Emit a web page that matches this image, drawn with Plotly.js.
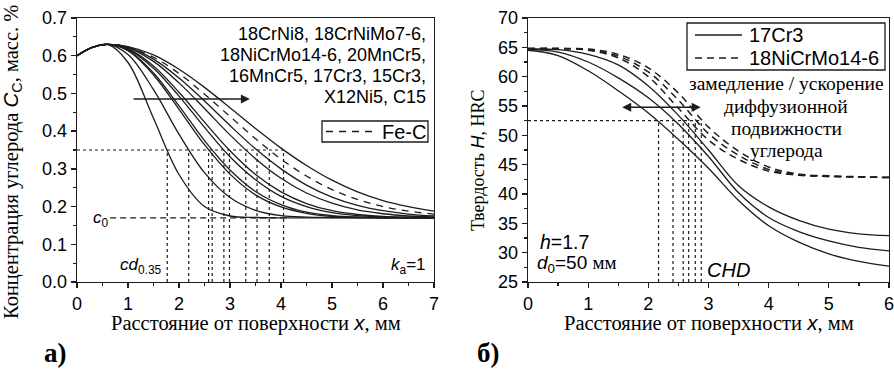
<!DOCTYPE html>
<html><head><meta charset="utf-8">
<script src="https://cdn.plot.ly/plotly-3.0.1.min.js"></script>
<style>html,body{margin:0;padding:0;background:#fff}#chart{width:894px;height:374px}</style>
</head><body><div id="chart"></div>
<script>
// ---------- panel a) carbon concentration profiles ----------
const xA = [0,0.3,0.6,1.0,1.5,2.0,2.5,3.0,3.5,4.0,4.5,5.0,5.5,6.0,6.5,7.0];
const steelA1 = [0.600,0.622,0.630,0.582,0.434,0.285,0.200,0.175,0.171,0.170,0.170,0.170,0.170,0.170,0.170,0.170];
const steelA2 = [0.600,0.622,0.630,0.603,0.510,0.392,0.290,0.224,0.190,0.176,0.172,0.171,0.170,0.170,0.170,0.170];
const steelA3 = [0.600,0.622,0.630,0.613,0.549,0.458,0.364,0.286,0.231,0.199,0.182,0.174,0.172,0.170,0.170,0.170];
const steelA4 = [0.600,0.622,0.630,0.614,0.554,0.467,0.375,0.297,0.240,0.205,0.185,0.176,0.172,0.171,0.170,0.170];
const steelA5 = [0.600,0.622,0.630,0.617,0.567,0.493,0.410,0.332,0.271,0.227,0.200,0.184,0.176,0.172,0.171,0.170];
const steelA6 = [0.600,0.622,0.630,0.618,0.573,0.503,0.424,0.348,0.285,0.239,0.208,0.189,0.179,0.174,0.172,0.171];
const steelA7 = [0.600,0.622,0.630,0.621,0.585,0.528,0.460,0.390,0.327,0.275,0.236,0.209,0.191,0.181,0.175,0.172];
const steelA8 = [0.600,0.622,0.630,0.622,0.591,0.541,0.480,0.415,0.353,0.300,0.257,0.225,0.203,0.189,0.180,0.175];
const steelA9 = [0.600,0.622,0.630,0.624,0.602,0.564,0.516,0.462,0.407,0.355,0.309,0.270,0.239,0.216,0.200,0.188];
const feC     = [0.600,0.622,0.630,0.623,0.596,0.553,0.498,0.439,0.380,0.326,0.281,0.245,0.219,0.200,0.188,0.180];
const cdA = [1.77,2.19,2.58,2.65,2.88,2.99,3.31,3.53,3.77,4.05];
const cdLevel = 0.35;
const c0Level = 0.17;
const steelNames = ['18CrNi8, 18CrNiMo7-6,', '18NiCrMo14-6, 20MnCr5,', '16MnCr5, 17Cr3, 15Cr3,', 'X12Ni5, C15'];

// ---------- panel б) hardness profiles ----------
const xB = [0,0.5,1,1.5,2,2.5,3,3.5,4,4.5,5,5.5,6];
const cr3_1 = [64.5,63.6,61.0,57.6,53.8,49.3,44.4,38.9,34.6,31.8,29.8,28.5,27.7];
const cr3_2 = [64.6,64.2,62.5,59.8,56.4,51.9,46.4,40.2,36.0,33.6,32.0,30.9,30.3];
const cr3_3 = [64.7,64.6,63.8,62.0,58.4,53.4,47.5,41.4,37.8,35.5,34.0,33.2,32.9];
const ni_1  = [64.8,64.8,64.5,63.2,60.0,54.6,49.2,45.9,43.9,43.2,43.0,42.9,42.8];
const ni_2  = [64.8,64.8,64.6,63.5,60.8,56.0,50.3,46.6,44.2,43.3,43.0,42.9,42.8];
const ni_3  = [64.8,64.8,64.7,63.8,61.5,57.2,51.4,47.3,44.6,43.4,43.1,42.95,42.85];
const chdB = [2.17,2.41,2.58,2.67,2.78,2.88];
const chdLevel = 52.5;
const noteLines = ['замедление / ускорение', 'диффузионной', 'подвижности', 'углерода'];

const INK = '#1c1c1c';
const SANS = 'Liberation Sans, Arial, sans-serif';
const SERIF = 'Liberation Serif, Times New Roman, serif';
const FE_DASH = '7px,6px';
const NI_DASH = '7px,5px';

const traces = [];
[steelA1,steelA2,steelA3,steelA4,steelA5,steelA6,steelA7,steelA8,steelA9].forEach((ys,i) => {
  traces.push({x:xA, y:ys, xaxis:'x', yaxis:'y', mode:'lines', name:'steel '+(i+1), showlegend:false,
    line:{color:INK, width:1.3, shape:'spline', smoothing:1}});
});
traces.push({x:xA, y:feC, xaxis:'x', yaxis:'y', mode:'lines', name:'Fe-C', showlegend:false,
  line:{color:INK, width:1.3, dash:FE_DASH, shape:'spline', smoothing:1}});
[cr3_1,cr3_2,cr3_3].forEach(ys => {
  traces.push({x:xB, y:ys, xaxis:'x2', yaxis:'y2', mode:'lines', name:'17Cr3', showlegend:false,
    line:{color:INK, width:1.3, shape:'spline', smoothing:1}});
});
[ni_1,ni_2,ni_3].forEach(ys => {
  traces.push({x:xB, y:ys, xaxis:'x2', yaxis:'y2', mode:'lines', name:'18NiCrMo14-6', showlegend:false,
    line:{color:INK, width:1.5, dash:NI_DASH, shape:'spline', smoothing:1}});
});

const px = v => v/894, py = v => 1 - v/374;
const shapes = [];
const dotLine = {color:INK, width:1.2, dash:'dot'};
cdA.forEach(v => shapes.push({type:'line', xref:'x', yref:'y', x0:v, x1:v, y0:0, y1:cdLevel, line:dotLine}));
shapes.push({type:'line', xref:'x', yref:'y', x0:0, x1:Math.max(...cdA), y0:cdLevel, y1:cdLevel, line:dotLine});
shapes.push({type:'line', xref:'x', yref:'y', x0:0.65, x1:Math.max(...cdA)+0.05, y0:c0Level, y1:c0Level,
  line:{color:INK, width:1.2, dash:'6px,4px'}});
chdB.forEach(v => shapes.push({type:'line', xref:'x2', yref:'y2', x0:v, x1:v, y0:25, y1:chdLevel, line:dotLine}));
shapes.push({type:'line', xref:'x2', yref:'y2', x0:0, x1:Math.max(...chdB), y0:chdLevel, y1:chdLevel, line:dotLine});
// legend boxes and their line samples
shapes.push({type:'rect', xref:'paper', yref:'paper', x0:px(322), x1:px(428), y0:py(142), y1:py(121),
  fillcolor:'#fff', line:{color:INK, width:1.3}});
shapes.push({type:'line', xref:'paper', yref:'paper', x0:px(326), x1:px(375), y0:py(131.5), y1:py(131.5),
  line:{color:INK, width:1.3, dash:FE_DASH}});
shapes.push({type:'rect', xref:'paper', yref:'paper', x0:px(687), x1:px(885), y0:py(70), y1:py(23),
  fillcolor:'#fff', line:{color:INK, width:1.3}});
shapes.push({type:'line', xref:'paper', yref:'paper', x0:px(695), x1:px(742), y0:py(35), y1:py(35),
  line:{color:INK, width:1.3}});
shapes.push({type:'line', xref:'paper', yref:'paper', x0:px(695), x1:px(742), y0:py(58), y1:py(58),
  line:{color:INK, width:1.3, dash:NI_DASH}});

const axBase = {showline:true, linecolor:INK, linewidth:1.3, mirror:true, showgrid:false, zeroline:false,
  ticks:'outside', ticklen:5, tickwidth:1.3, tickcolor:INK, ticklabeloverflow:'allow',
  tickfont:{family:SANS, size:18, color:'#000'}};
const yDom = [1-282/374, 1-18/374];
const A = (o) => Object.assign({showarrow:false, xanchor:'center', yanchor:'middle'}, o);
const xTitle = 'Расстояние от поверхности <span style="font-family:Liberation Sans"><i>x</i></span>, мм';

const annotations = [
  A({xref:'x', yref:'paper', x:3.5, y:py(323), text:xTitle, font:{family:SERIF, size:20.5}}),
  A({xref:'x2', yref:'paper', x:3.0, y:py(323), text:xTitle, font:{family:SERIF, size:20.5}}),
  A({xref:'paper', yref:'paper', x:px(12), y:py(162), textangle:-90,
     text:'Концентрация углерода <span style="font-family:Liberation Sans"><i>C</i><sub>C</sub></span>, масс. %',
     font:{family:SERIF, size:20.5}}),
  A({xref:'paper', yref:'paper', x:px(478), y:py(161), textangle:-90,
     text:'Твердость <span style="font-family:Liberation Sans"><i>H</i></span>, HRC', font:{family:SERIF, size:18}}),
  A({xref:'paper', yref:'paper', x:px(55), y:py(353), text:'<b>а)</b>', font:{family:SERIF, size:27}}),
  A({xref:'paper', yref:'paper', x:px(488), y:py(353), text:'<b>б)</b>', font:{family:SERIF, size:27}}),
  // legend texts
  A({xref:'paper', yref:'paper', x:px(380), y:py(131.5), xanchor:'left', text:'Fe-C', font:{family:SANS, size:20}}),
  A({xref:'paper', yref:'paper', x:px(747), y:py(35), xanchor:'left', text:'17Cr3', font:{family:SANS, size:20}}),
  A({xref:'paper', yref:'paper', x:px(747), y:py(58), xanchor:'left', text:'18NiCrMo14-6', font:{family:SANS, size:20}}),
  // panel a texts
  A({xref:'x', yref:'y', x:0.48, y:0.167, text:'<i>c</i><sub>0</sub>', font:{family:SANS, size:17}}),
  A({xref:'x', yref:'y', x:1.25, y:0.042, text:'<i>cd</i><sub>0.35</sub>', font:{family:SANS, size:17}}),
  A({xref:'x', yref:'y', x:6.5, y:0.042, text:'<i>k</i><sub>a</sub>=1', font:{family:SANS, size:17}}),
  {xref:'x', yref:'y', axref:'x', ayref:'y', x:3.39, y:0.485, ax:1.08, ay:0.485, text:'', showarrow:true,
   arrowhead:2, arrowsize:1.2, arrowwidth:1.5, arrowcolor:INK},
  // panel b texts
  A({xref:'x2', yref:'y2', x:0.16, y:31.9, xanchor:'left', text:'<i>h</i>=1.7', font:{family:SANS, size:19.5}}),
  A({xref:'x2', yref:'y2', x:0.11, y:28.0, xanchor:'left',
     text:'<i>d</i><sub>0</sub>=50 <span style="font-family:Liberation Serif">мм</span>', font:{family:SANS, size:19}}),
  A({xref:'x2', yref:'y2', x:3.33, y:27.1, text:'<i>CHD</i>', font:{family:SANS, size:20}}),
  {xref:'x2', yref:'y2', axref:'x2', ayref:'y2', x:2.87, y:54.8, ax:1.54, ay:54.8, text:'', showarrow:true,
   arrowhead:2, startarrowhead:2, arrowside:'end+start', arrowsize:1.2, startarrowsize:1.2, arrowwidth:1.5, arrowcolor:INK}
];
const steelRows = [34, 55, 76, 97];
steelNames.forEach((t,i) => annotations.push(A({xref:'paper', yref:'paper', x:px(428), y:py(steelRows[i]),
  xanchor:'right', text:t, font:{family:SANS, size:18}})));
const noteRows = [83, 106, 128, 150];
noteLines.forEach((t,i) => annotations.push(A({xref:'paper', yref:'paper', x:px(786), y:py(noteRows[i]),
  text:t, font:{family:SERIF, size:19.5}})));

const layout = {
  width:894, height:374, margin:{l:0, r:0, t:0, b:0},
  paper_bgcolor:'#fff', plot_bgcolor:'#fff', showlegend:false,
  font:{family:SANS, size:17, color:'#000'},
  xaxis: Object.assign({}, axBase, {domain:[77/894, 434/894], range:[0,7], dtick:1, anchor:'y',
    minor:{dtick:0.5, ticks:'outside', ticklen:3, tickwidth:1.2, tickcolor:INK}}),
  yaxis: Object.assign({}, axBase, {domain:yDom, range:[0,0.7], dtick:0.1, tickformat:'.1f', anchor:'x',
    minor:{dtick:0.05, ticks:'outside', ticklen:3, tickwidth:1.2, tickcolor:INK}}),
  xaxis2: Object.assign({}, axBase, {domain:[528/894, 889/894], range:[0,6], dtick:1, anchor:'y2',
    minor:{dtick:0.5, ticks:'outside', ticklen:3, tickwidth:1.2, tickcolor:INK}}),
  yaxis2: Object.assign({}, axBase, {domain:yDom, range:[25,70], dtick:5, anchor:'x2',
    minor:{dtick:2.5, ticks:'outside', ticklen:3, tickwidth:1.2, tickcolor:INK}}),
  shapes: shapes,
  annotations: annotations
};

Plotly.newPlot('chart', traces, layout, {displayModeBar:false, staticPlot:true});
</script>
</body></html>
